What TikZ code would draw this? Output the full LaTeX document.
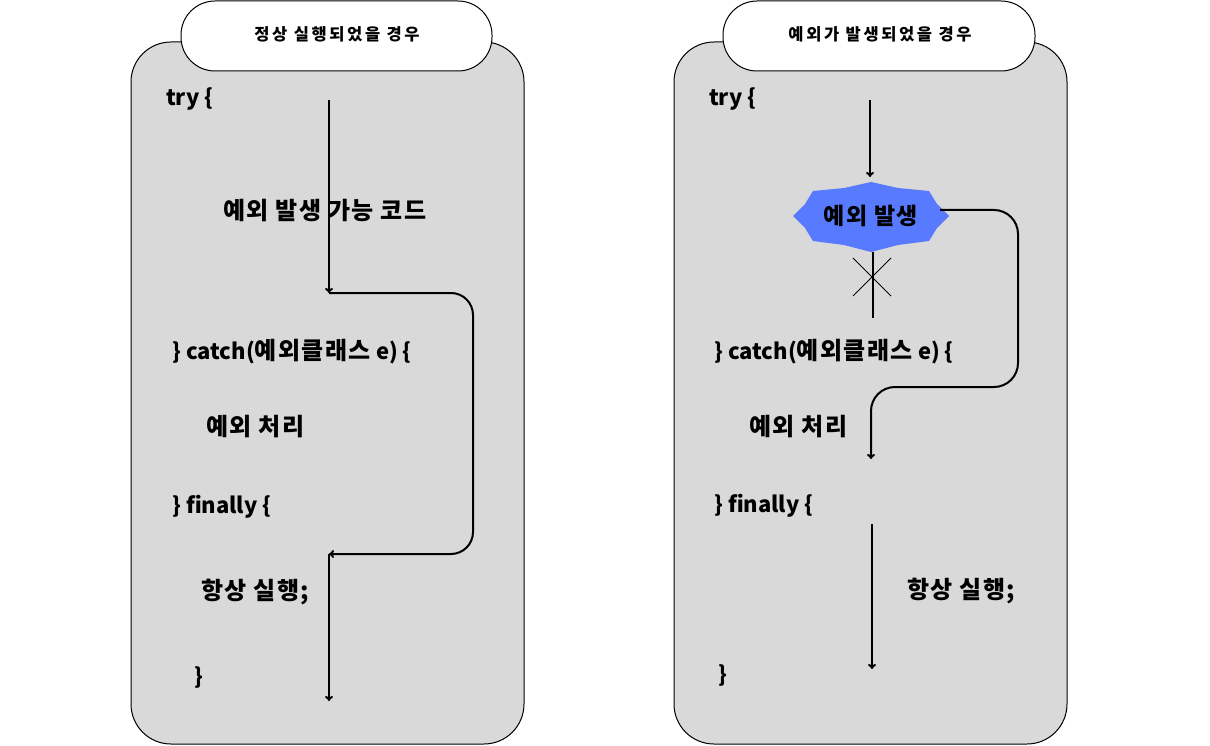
\documentclass[tikz,border=0pt]{standalone}
\usepackage{fontspec}
\setmainfont{Noto Sans CJK KR}
\newfontfamily\krmain{Noto Sans CJK KR}[LetterSpace=6]
\newfontfamily\krtab{Noto Sans CJK KR}[LetterSpace=16]
\newcommand{\kr}[1]{{\krmain\fontsize{24}{24}\selectfont\bfseries #1}}
\usetikzlibrary{arrows.meta}
\definecolor{panelgray}{RGB}{217,217,217}
\definecolor{starblue}{RGB}{88,122,255}
\begin{document}
\begin{tikzpicture}[x=1pt,y=-1pt,
  panel/.style={draw=black,line width=1pt,fill=panelgray,rounded corners=40pt},
  tabbox/.style={draw=black,line width=1pt,fill=white,rounded corners=34pt},
  tabtext/.style={font=\krtab\fontsize{16.5}{16.5}\selectfont\bfseries,anchor=center,inner sep=0pt},
  code/.style={font=\fontsize{22}{22}\selectfont\bfseries,anchor=west,inner sep=0pt},
  flow/.style={line width=2pt,-{To[length=5pt,width=8pt]}},
  plain/.style={line width=2pt},
  cross/.style={line width=1pt}]
\useasboundingbox (0,0) rectangle (1210,746);
% left panel
\draw[panel] (131,42) rectangle (524,744);
\draw[tabbox] (181,1) rectangle (492,71);
\node[tabtext] (ltab) at (337,34) {정상 실행되었을 경우};
\node[code] (ltry) at (166,99) {try \{};
\node[code] (lcode) at (223,211) {\kr{예외 발생 가능 코드}};
\node[code] (lcatch) at (172,352) {\} catch(\kr{예외클래스} e) \{};
\node[code] (lhandle) at (206,427) {\kr{예외 처리}};
\node[code] (lfin) at (172,507) {\} finally \{};
\node[code] (lalways) at (201,592) {\kr{항상 실행;}};
\node[code] (lend) at (194,677) {\}};
\coordinate (L0) at (329,100);
\coordinate (L1) at (329,293);
\coordinate (Lr) at (473,554);
\coordinate (L2) at (329,554);
\coordinate (L3) at (329,701);
\draw[flow] (L0) -- (L1);
\draw[flow,rounded corners=22pt] (L1) -| (Lr) -- (L2);
\draw[flow] (L2) -- (L3);
% right panel
\draw[panel] (674,42) rectangle (1067,744);
\draw[tabbox] (723,1) rectangle (1035,71);
\node[tabtext] (rtab) at (880,34) {예외가 발생되었을 경우};
\node[code] (rtry) at (709,99) {try \{};
\node[code] (rcatch) at (714,352) {\} catch(\kr{예외클래스} e) \{};
\node[code] (rhandle) at (749,427) {\kr{예외 처리}};
\node[code] (rfin) at (714,506) {\} finally \{};
\node[code] (ralways) at (907,591) {\kr{항상 실행;}};
\node[code] (rend) at (718,675) {\}};
% starburst
\coordinate (S) at (871,216);
\fill[starblue] ([shift={(-78,0)}]S) -- ([shift={(-66,-12)}]S) -- ([shift={(-58,-25)}]S)
  -- ([shift={(-27,-28)}]S) -- ([shift={(0,-34)}]S) -- ([shift={(27,-28)}]S)
  -- ([shift={(58,-25)}]S) -- ([shift={(66,-12)}]S) -- ([shift={(78,0)}]S)
  -- ([shift={(66,12)}]S) -- ([shift={(58,25)}]S) -- ([shift={(27,29)}]S)
  -- ([shift={(0,36)}]S) -- ([shift={(-27,29)}]S) -- ([shift={(-58,25)}]S)
  -- ([shift={(-66,12)}]S) -- cycle;
\node[inner sep=0pt] (star) at (S) {{\krmain\fontsize{23}{23}\selectfont\bfseries 예외 발생}};
\coordinate (R0) at (870,100);
\coordinate (R1) at (870,177);
\draw[flow] (R0) -- (R1);
\coordinate (Rs0) at (873,252);
\coordinate (Rs1) at (873,318);
\draw[plain] (Rs0) -- (Rs1);
\coordinate (X1) at (853,258);
\coordinate (X2) at (891,296);
\coordinate (X3) at (853,296);
\coordinate (X4) at (891,258);
\draw[cross] (X1) -- (X2);
\draw[cross] (X3) -- (X4);
\coordinate (Rb0) at (940,210);
\coordinate (Rb1) at (1018,387);
\coordinate (Rb2) at (871,459);
\draw[flow,rounded corners=24pt] (Rb0) -| (Rb1) -| (Rb2);
\coordinate (R2) at (872,524);
\coordinate (R3) at (872,669);
\draw[flow] (R2) -- (R3);
\end{tikzpicture}
\end{document}
